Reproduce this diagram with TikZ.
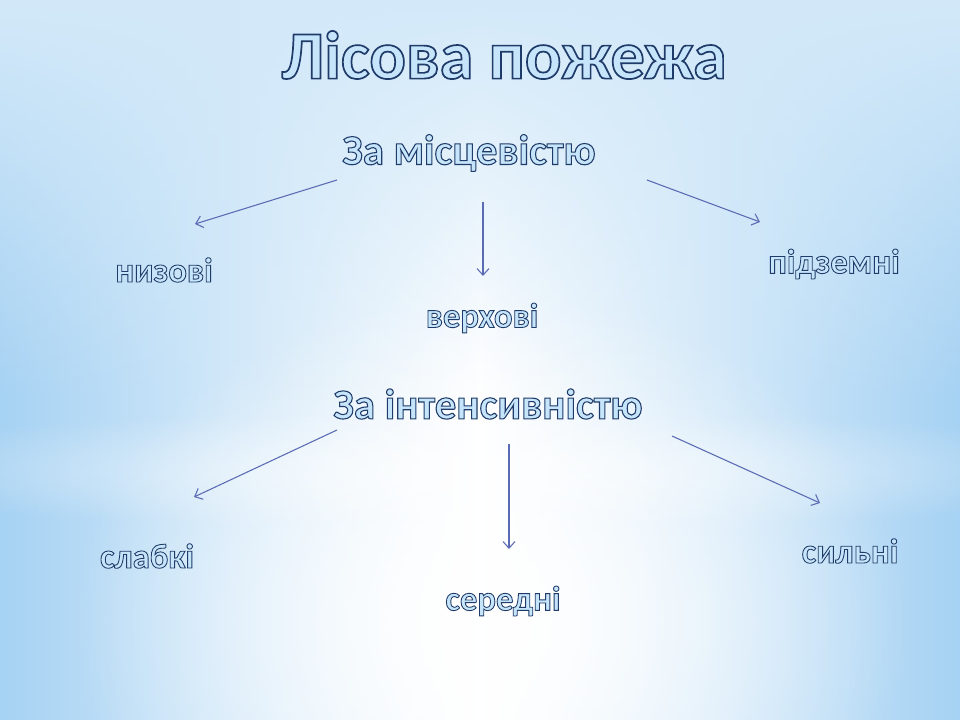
\documentclass[tikz,border=0pt]{standalone}
\usepackage{fontspec}
\setmainfont{Carlito}
\newfontfamily\ofont{Carlito}[BoldFeatures={FakeBold=2.5}]
\usepackage{xcolor}
\usetikzlibrary{arrows.meta,fadings}
\definecolor{bgblue}{HTML}{A6D2F3}
\definecolor{arrblue}{HTML}{5A6BB4}
\tikzfading[name=softglow, inner color=transparent!0, outer color=transparent!100]
% light fill, dark outline
\newcommand{\otext}[1]{\special{pdf:bcolor [0.78 0.9 0.98] [0.12 0.23 0.41]}#1\special{pdf:ecolor}}
\tikzstyle{ttl}=[font=\ofont\bfseries\fontsize{51}{56}\selectfont, inner sep=0pt]
\tikzstyle{hdr}=[font=\ofont\bfseries\fontsize{32}{36}\selectfont, inner sep=0pt]
\tikzstyle{lbl}=[font=\ofont\bfseries\fontsize{26}{30}\selectfont, inner sep=0pt]
\tikzstyle{pgraph}=[-{Straight Barb[length=5pt,width=9pt]}, draw=arrblue, line width=0.8pt]

\begin{document}
\begin{tikzpicture}[x=0.75pt,y=-0.75pt]
\useasboundingbox (0,0) rectangle (960,720);
% background
\fill[left color=bgblue, right color=bgblue, middle color=white] (0,0) rectangle (960,720);
\fill[bgblue!50, path fading=south] (0,0) rectangle (960,400);
\fill[white, path fading=softglow] (490,620) ellipse (420 and 330);
\fill[white, opacity=0.5, path fading=softglow] (480,470) ellipse (700 and 60);
% titles
\node[ttl] (t) at (504,55) {\otext{Лісова пожежа}};
\node[hdr] (h1) at (469,153) {\otext{За місцевістю}};
\node[hdr] (h2) at (488,404) {\otext{За інтенсивністю}};
% by place
\node[lbl] (n1) at (164,270) {\otext{низові}};
\node[lbl] (n2) at (482,318) {\otext{верхові}};
\node[lbl] (n3) at (834,264) {\otext{підземні}};
% by intensity
\node[lbl] (m1) at (147,556) {\otext{слабкі}};
\node[lbl] (m2) at (503,601) {\otext{середні}};
\node[lbl] (m3) at (850,551) {\otext{сильні}};
% arrow ends
\coordinate (a1s) at (337,180); \coordinate (a1e) at (195,224);
\coordinate (a2s) at (483,202); \coordinate (a2e) at (483,276);
\coordinate (a3s) at (647,180); \coordinate (a3e) at (760,222);
\coordinate (b1s) at (337,430); \coordinate (b1e) at (194,497);
\coordinate (b2s) at (509,444); \coordinate (b2e) at (509,549);
\coordinate (b3s) at (672,436); \coordinate (b3e) at (820,503);
\draw[pgraph] (a1s) -- (a1e);
\draw[pgraph] (a2s) -- (a2e);
\draw[pgraph] (a3s) -- (a3e);
\draw[pgraph] (b1s) -- (b1e);
\draw[pgraph] (b2s) -- (b2e);
\draw[pgraph] (b3s) -- (b3e);
\end{tikzpicture}
\end{document}
